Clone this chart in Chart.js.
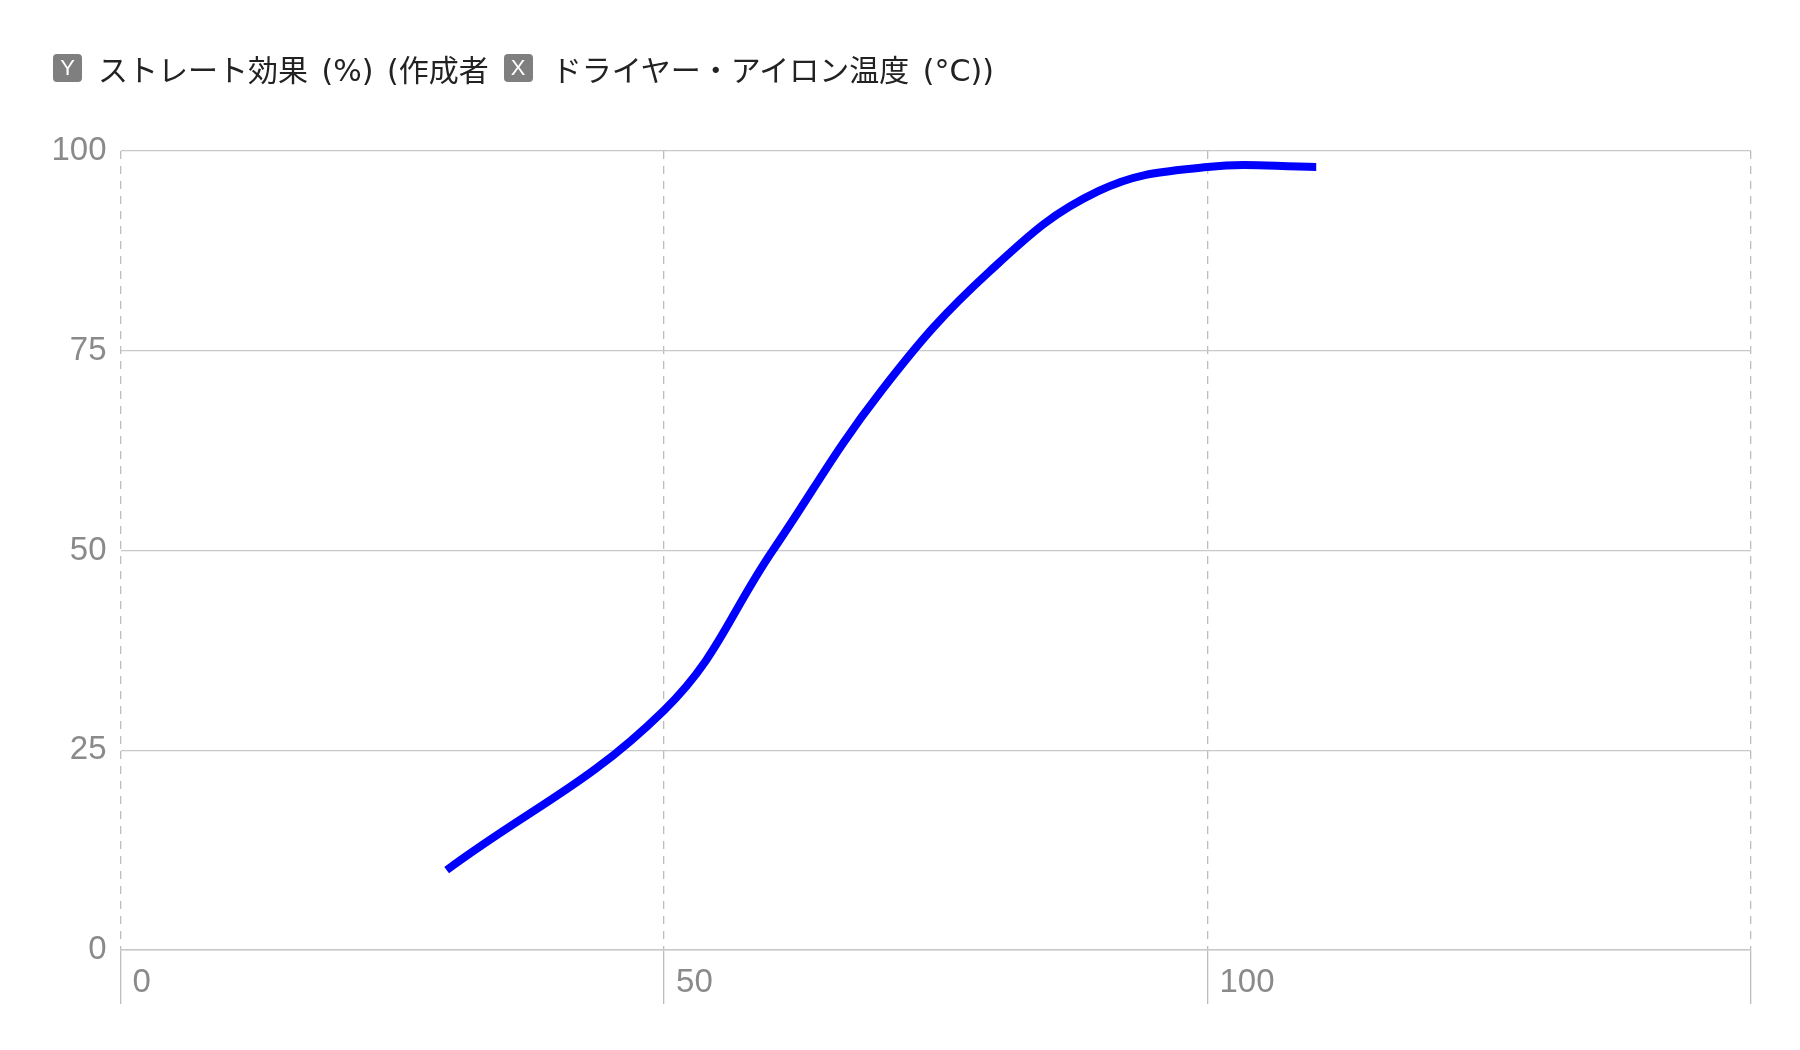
<!DOCTYPE html>
<html>
<head>
<meta charset="utf-8">
<script src="https://cdn.jsdelivr.net/npm/chart.js@4/dist/chart.umd.min.js"></script>
<style>
  html, body { margin: 0; padding: 0; background: #fff; }
  #wrap { position: relative; width: 1800px; height: 1050px; }
  #legend { position: absolute; left: 53px; top: 51px; height: 34px; display: flex; align-items: center;
    font-family: "DejaVu Sans", "Noto Sans CJK JP", sans-serif; font-size: 30px; color: #222; white-space: nowrap; word-spacing: 4px; }
  .key { display: inline-flex; align-items: center; justify-content: center; width: 29px; height: 28px;
    background: #7f7f7f; color: #fff; border-radius: 4px; font-family: "Liberation Sans", sans-serif; font-size: 22px; word-spacing: 0; }
  .gap1 { margin-right: 16px; }
  .gap2 { margin-left: 15px; margin-right: 19px; }
  canvas { position: absolute; left: 0; top: 0; }
</style>
</head>
<body>
<div id="wrap">
  <canvas id="c" width="1800" height="1050"></canvas>
  <div id="legend"><span class="key gap1">Y</span><span>ストレート効果 (%) (作成者</span><span class="key gap2">X</span><span>ドライヤー・アイロン温度 (°C))</span></div>
</div>
<script>
// Data
const temperature = [30, 50, 60, 70, 80, 90, 100, 110];
const straightEffect = [10, 30, 50, 70, 85, 95, 98, 98];
const xTickValues = [0, 50, 100, 150];
const xTickLabels = ['0', '50', '100', ''];
const yTickValues = [0, 25, 50, 75, 100];

const points = temperature.map((t, i) => ({ x: t, y: straightEffect[i] }));

const ctx = document.getElementById('c').getContext('2d');
new Chart(ctx, {
  type: 'line',
  data: {
    datasets: [{
      label: 'ストレート効果 (%)',
      data: points,
      borderColor: '#0000ff',
      borderWidth: 8,
      pointRadius: 0,
      tension: 0.4,
      fill: false
    }]
  },
  options: {
    responsive: false,
    animation: false,
    layout: { padding: { top: 151, left: 37.5, right: 49, bottom: 100 } },
    plugins: { legend: { display: false }, tooltip: { enabled: false }, title: { display: false } },
    scales: {
      x: {
        type: 'linear',
        min: xTickValues[0],
        max: xTickValues[xTickValues.length - 1],
        afterBuildTicks: (scale) => { scale.ticks = xTickValues.map(v => ({ value: v })); },
        ticks: {
          callback: (v) => { const i = xTickValues.indexOf(v); return i >= 0 ? xTickLabels[i] : ''; },
          align: 'start',
          labelOffset: 12,
          mirror: true,
          padding: -53,
          maxRotation: 0,
          autoSkip: false,
          color: '#8a8a8a',
          font: { family: 'Liberation Sans', size: 33 }
        },
        grid: { color: '#bdbdbd', lineWidth: 1.3, drawTicks: true, tickLength: 54 },
        border: { display: true, color: '#c8c8c8', width: 1.5, dash: [8, 7] }
      },
      y: {
        type: 'linear',
        min: yTickValues[0],
        max: yTickValues[yTickValues.length - 1],
        afterBuildTicks: (scale) => { scale.ticks = yTickValues.map(v => ({ value: v })); },
        ticks: {
          padding: 14,
          color: '#8a8a8a',
          font: { family: 'Liberation Sans', size: 33 }
        },
        grid: { color: '#c8c8c8', lineWidth: 1.3, drawTicks: false },
        border: { display: false }
      }
    }
  }
});
</script>
</body>
</html>
